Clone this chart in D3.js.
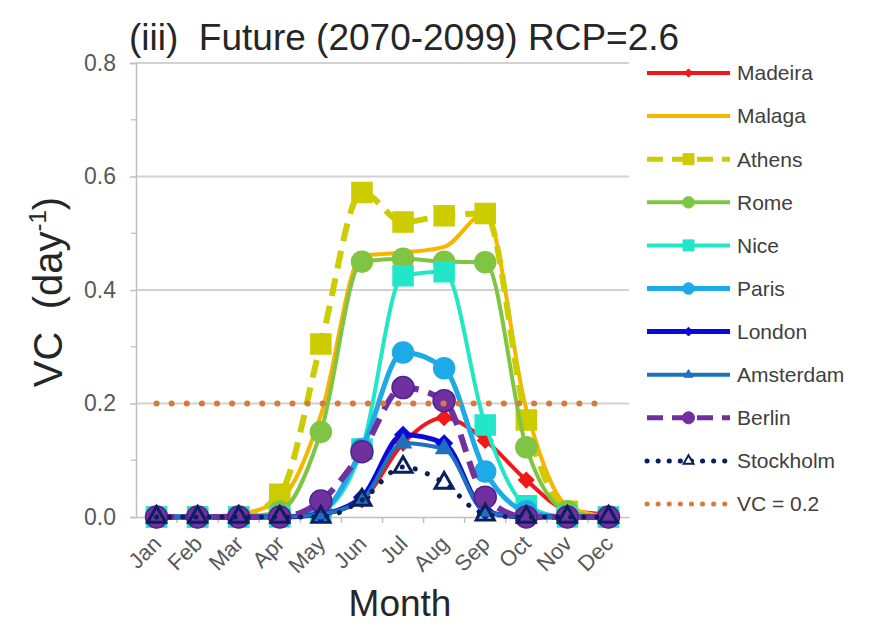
<!DOCTYPE html>
<html>
<head>
<meta charset="utf-8">
<script src="https://cdn.jsdelivr.net/npm/d3@7"></script>
<style>
  html, body { margin: 0; padding: 0; background: #fff; }
  svg { display: block; font-family: "Liberation Sans", Arial, sans-serif; }
</style>
</head>
<body>
<svg id="chart" width="874" height="627"></svg>
<script>
// ---------- data ----------
const months = ["Jan","Feb","Mar","Apr","May","Jun","Jul","Aug","Sep","Oct","Nov","Dec"];
const yTicks = [0, 0.2, 0.4, 0.6, 0.8];
const yMinorTicks = [0.1, 0.3, 0.5, 0.7];

const madeira   = [0, 0, 0, 0, 0.005, 0.03, 0.13, 0.175, 0.135, 0.065, 0.012, 0.005];
const malaga    = [0, 0, 0.005, 0.03, 0.18, 0.46, 0.466, 0.476, 0.535, 0.19, 0.02, 0];
const athens    = [0, 0, 0, 0.04, 0.305, 0.572, 0.52, 0.531, 0.535, 0.171, 0.01, 0];
const rome      = [0, 0, 0, 0.01, 0.15, 0.45, 0.455, 0.45, 0.449, 0.123, 0.01, 0];
const nice      = [0, 0, 0, 0, 0.01, 0.12, 0.425, 0.432, 0.162, 0.02, 0, 0];
const paris     = [0, 0, 0, 0, 0.01, 0.12, 0.29, 0.262, 0.08, 0.01, 0, 0];
const london    = [0, 0, 0, 0, 0.005, 0.035, 0.145, 0.13, 0.01, 0, 0, 0];
const amsterdam = [0, 0, 0, 0, 0.005, 0.03, 0.13, 0.12, 0.01, 0, 0, 0];
const berlin    = [0, 0, 0, 0, 0.028, 0.115, 0.228, 0.205, 0.035, 0, 0, 0];
const stockholm = [0, 0, 0, 0, 0, 0.03, 0.088, 0.06, 0.004, 0, 0, 0];
const vcThreshold = [0.2, 0.2, 0.2, 0.2, 0.2, 0.2, 0.2, 0.2, 0.2, 0.2, 0.2, 0.2];

const seriesNames = ["Madeira","Malaga","Athens","Rome","Nice","Paris","London","Amsterdam","Berlin","Stockholm","VC = 0.2"];
const seriesValues = [madeira, malaga, athens, rome, nice, paris, london, amsterdam, berlin, stockholm, vcThreshold];

// ---------- styles ----------
const styles = [
  {color:"#f01818", width:4,   dash:null,    cap:"butt",  marker:"diamond",  size:15},
  {color:"#f7b500", width:4,   dash:null,    cap:"butt",  marker:null,       size:0},
  {color:"#cccc00", width:6,   dash:"18,10", cap:"butt",  marker:"square",   size:20},
  {color:"#80c444", width:4,   dash:null,    cap:"butt",  marker:"circle",   size:21},
  {color:"#22e6c8", width:4,   dash:null,    cap:"butt",  marker:"square",   size:20},
  {color:"#1eaae6", width:5,   dash:null,    cap:"butt",  marker:"circle",   size:21},
  {color:"#0a0ad8", width:5,   dash:null,    cap:"butt",  marker:"diamond",  size:16},
  {color:"#1f70bd", width:4,   dash:null,    cap:"butt",  marker:"triangle", size:16},
  {color:"#7030a0", width:6,   dash:"18,10", cap:"butt",  marker:"circle",   size:22},
  {color:"#0a1f5c", width:5,   dash:"0.1,13",cap:"round", marker:"otriangle",size:18},
  {color:"#d87a3c", width:6,   dash:"0.1,15",cap:"round", marker:null,       size:0}
];

// ---------- layout ----------
const L = 136, R = 629, T = 63, B = 517;
const svg = d3.select("#chart");

const x = d3.scaleBand().domain(months).range([L, R]);
const cx = m => x(m) + x.bandwidth() / 2;
const y = d3.scaleLinear().domain([0, 0.8]).range([B, T]);

// gridlines
svg.append("g").selectAll("line").data(yTicks.filter(d => d > 0)).join("line")
  .attr("x1", L).attr("x2", R).attr("y1", d => y(d)).attr("y2", d => y(d))
  .attr("stroke", "#d2d2d2").attr("stroke-width", 2);

// y axis
const yAxis = svg.append("g").attr("transform", `translate(${L},0)`)
  .call(d3.axisLeft(y).tickValues(yTicks).tickFormat(d3.format(".1f")).tickSize(6).tickPadding(14));
yAxis.select(".domain").attr("stroke", "#c0c0c0").attr("stroke-width", 1.5);
yAxis.selectAll(".tick line").attr("stroke", "#c0c0c0").attr("stroke-width", 1.5);
yAxis.selectAll(".tick text").attr("fill", "#595959").attr("font-size", 23)
  .attr("font-family", "Liberation Sans, Arial, sans-serif");
svg.append("g").selectAll("line").data(yMinorTicks).join("line")
  .attr("x1", L - 5).attr("x2", L).attr("y1", d => y(d)).attr("y2", d => y(d))
  .attr("stroke", "#c8c8c8").attr("stroke-width", 1.5);

// x axis
const xAxis = svg.append("g").attr("transform", `translate(0,${B})`)
  .call(d3.axisBottom(x).tickSize(0).tickPadding(0));
xAxis.select(".domain").attr("stroke", "#c0c0c0").attr("stroke-width", 1.5);
xAxis.selectAll(".tick text")
  .attr("fill", "#595959").attr("font-size", 22)
  .attr("font-family", "Liberation Sans, Arial, sans-serif")
  .attr("text-anchor", "end")
  .attr("dy", null).attr("y", null)
  .attr("transform", "translate(6,28) rotate(-45)");
// category boundary ticks
svg.append("g").selectAll("line").data(months.slice(1)).join("line")
  .attr("x1", d => x(d)).attr("x2", d => x(d)).attr("y1", B).attr("y2", B + 6)
  .attr("stroke", "#c0c0c0").attr("stroke-width", 1.5);

// ---------- series ----------
function markerPath(type, size) {
  const s = size;
  switch (type) {
    case "circle":   return d3.symbol(d3.symbolCircle, Math.PI * s * s / 4)();
    case "square":   return d3.symbol(d3.symbolSquare, s * s)();
    case "diamond":  { const h = s / 2; return `M0,${-h}L${h},0L0,${h}L${-h},0Z`; }
    case "triangle":
    case "otriangle": return d3.symbol(d3.symbolTriangle, Math.sqrt(3) / 4 * s * s)();
  }
  return null;
}

const line = d3.line().x(d => cx(d.m)).y(d => y(d.v)).curve(d3.curveMonotoneX);

seriesNames.forEach((name, i) => {
  const st = styles[i];
  const pts = seriesValues[i].map((v, k) => ({m: months[k], v}));
  const g = svg.append("g").attr("class", "series");
  g.append("path").datum(pts).attr("d", line)
    .attr("fill", "none").attr("stroke", st.color).attr("stroke-width", st.width)
    .attr("stroke-dasharray", st.dash).attr("stroke-linecap", st.cap)
    .attr("stroke-linejoin", "round");
  if (st.marker) {
    g.selectAll("path.mk").data(pts).join("path").attr("class", "mk")
      .attr("transform", d => `translate(${cx(d.m)},${y(d.v)})`)
      .attr("d", markerPath(st.marker, st.size))
      .attr("fill", st.marker === "otriangle" ? "none" : st.color)
      .attr("stroke", st.marker === "otriangle" ? st.color : (name === "Berlin" ? "#4a2590" : st.color))
      .attr("stroke-width", st.marker === "otriangle" ? 3 : 1.5);
  }
});

// ---------- legend ----------
const legY0 = 73, legStep = 43.1;
const lg = svg.append("g");
seriesNames.forEach((name, i) => {
  const st = styles[i];
  const yy = legY0 + i * legStep;
  lg.append("line").attr("x1", 647).attr("x2", 730).attr("y1", yy).attr("y2", yy)
    .attr("stroke", st.color).attr("stroke-width", Math.min(st.width, 5))
    .attr("stroke-dasharray", st.dash ? (st.cap === "round" ? st.dash.replace(/,\d+$/, ",11") : "16,9") : null)
    .attr("stroke-linecap", st.cap);
  if (st.marker) {
    lg.append("path").attr("transform", `translate(688.5,${yy})`)
      .attr("d", markerPath(st.marker, st.size * 0.55))
      .attr("fill", st.marker === "otriangle" ? "#fff" : st.color)
      .attr("stroke", st.color).attr("stroke-width", st.marker === "otriangle" ? 2 : 1);
  }
  lg.append("text").attr("x", 737).attr("y", yy).attr("dy", "0.35em")
    .attr("font-size", 21).attr("fill", "#404040").text(name);
});

// ---------- titles ----------
svg.append("text").attr("x", 129).attr("y", 50)
  .attr("font-size", 37).attr("fill", "#262626").style("white-space", "pre")
  .text("(iii)  Future (2070-2099) RCP=2.6");

svg.append("text").attr("x", 400).attr("y", 616).attr("text-anchor", "middle")
  .attr("font-size", 37).attr("fill", "#262626").text("Month");

const yl = svg.append("text").attr("transform", "translate(62,292) rotate(-90)")
  .attr("text-anchor", "middle").attr("font-size", 40).attr("fill", "#262626")
  .style("white-space", "pre");
yl.append("tspan").text("VC  (day");
yl.append("tspan").attr("font-size", 24).attr("dy", -16).text("-1");
yl.append("tspan").attr("dy", 16).text(")");
</script>
</body>
</html>
